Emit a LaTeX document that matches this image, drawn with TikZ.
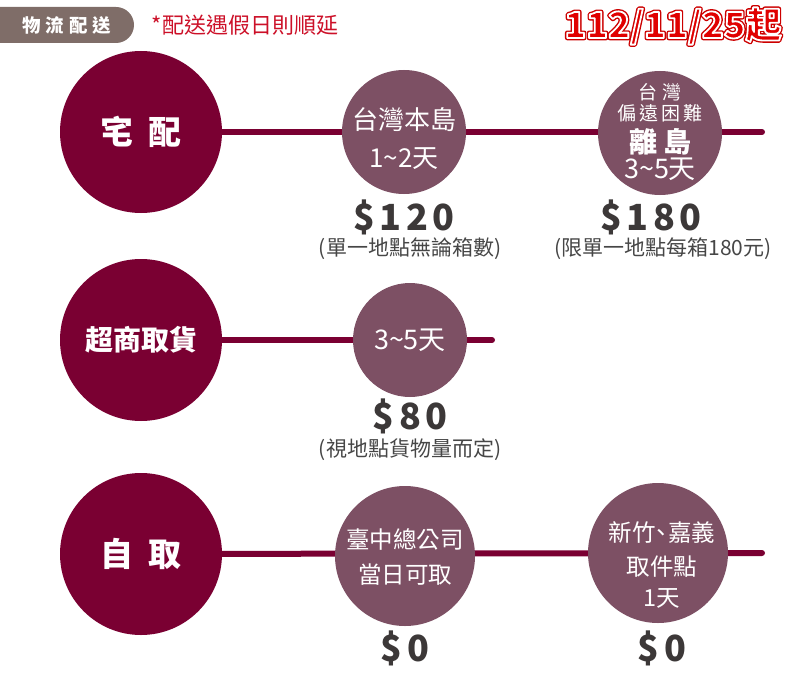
\documentclass[tikz,border=0pt]{standalone}
\usepackage{fontspec}
\setmainfont{Noto Sans CJK TC}
\usepackage{tikz}
\usetikzlibrary{positioning, backgrounds}
\definecolor{mymaroon}{RGB}{122,0,50}
\definecolor{mymauve}{RGB}{125,80,100}
\definecolor{mytag}{RGB}{127,109,104}
\definecolor{myred}{RGB}{204,16,40}
\definecolor{mydatered}{RGB}{225,0,0}
\definecolor{myprice}{RGB}{60,56,56}
\definecolor{mynote}{RGB}{70,70,70}
\newcommand{\cjksize}[2]{\fontsize{#1}{#2}\selectfont\lineskiplimit=-100pt}
% outlined text: #1 = line width, #2 = stroke colour (rgb)
\newcommand{\outlined}[3]{\special{pdf:literal direct 2 Tr 1 j #1 w #2 RG}#3\special{pdf:literal direct 0 Tr}}
\tikzstyle{mainway} = [circle, minimum size=162pt, inner sep=0pt, fill=mymaroon, text=white, align=center]
\tikzstyle{option} = [circle, inner sep=-40pt, fill=mymauve, text=white, align=center]
\tikzstyle{optiontext} = [inner sep=0pt, text=white, align=center]
\tikzstyle{price} = [inner sep=0pt, text=myprice, font=\bfseries\fontsize{36}{36}\selectfont\addfontfeature{LetterSpace=12}]
\tikzstyle{note} = [inner sep=0pt, text=mynote, font=\fontsize{21}{21}\selectfont]
\tikzstyle{datestyle} = [inner sep=0pt, text=mydatered, font=\bfseries\fontsize{36}{36}\selectfont]
\tikzstyle{route} = [line width=6pt, draw=mymaroon, line cap=round]

\begin{document}
\begin{tikzpicture}[x=1pt, y=-1pt]
    \useasboundingbox (0,0) rectangle (800,682);

    % header
    \fill[mytag] (0,7) -- (116,7) arc[start angle=-90, end angle=90, radius=18] -- (0,43) -- cycle;
    \node (tag) at (67,25) [text=white, font=\bfseries\fontsize{18.5}{18.5}\selectfont] {物\hspace{5pt}流\hspace{5pt}配\hspace{5pt}送};
    \node (delay) at (245,25) [text=myred, font=\fontsize{22}{22}\selectfont] {*配送遇假日則順延};
    \node (dateback) at (673,26) [datestyle] {\outlined{4.6}{0.8 0 0}{112/11/25起}};
    \node (date) at (dateback) [datestyle] {\outlined{1.8}{1 1 1}{112/11/25起}};

    % ways
    \node (home) at (141,132) [mainway, font=\bfseries\fontsize{33}{33}\selectfont] {宅\hspace{16pt}配};
    \node (store) at (141,340) [mainway, font=\bfseries\fontsize{28}{28}\selectfont] {超商取貨};
    \node (pickup) at (141,554) [mainway, font=\bfseries\fontsize{33}{33}\selectfont] {自\hspace{16pt}取};

    % options
    \node (island) at (404,132) [option, minimum size=124pt] {};
    \node (islandtext) at (404,139) [optiontext, font=\cjksize{26}{38}] {台灣本島\\1\textasciitilde 2天};
    \node (remote) at (660,133) [option, minimum size=124pt] {};
    \node (remotetext) at (660,132) [optiontext, font=\cjksize{19}{21}] {台\hspace{6pt}灣\\偏\hspace{3pt}遠\hspace{3pt}困\hspace{3pt}難\\[11.5pt]{\bfseries\fontsize{28}{28}\selectfont 離\hspace{6pt}島}\\[4.5pt]{\fontsize{27}{27}\selectfont 3\textasciitilde 5天}};
    \node (cvsday) at (410,340) [option, minimum size=114pt, font=\fontsize{27}{27}\selectfont] {3\textasciitilde 5天};
    \node (hq) at (405,556) [option, minimum size=140pt] {};
    \node (hqtext) at (405,557) [optiontext, font=\cjksize{23.5}{35}] {臺中總公司\\當日可取};
    \node (branch) at (658,553) [option, minimum size=140pt] {};
    \node (branchtext) at (662,565) [optiontext, font=\cjksize{23.5}{34}] {新竹\hspace{-6pt}、\hspace{-5pt}嘉義\\取件點\\[-3pt]1天};

    % prices
    \node (p120) at (404,217) [price] {\$120};
    \node (n120) at (410,249) [note] {(單一地點無論箱數)};
    \node (p180) at (651,217) [price] {\$180};
    \node (n180) at (663,249) [note] {(限單一地點每箱180元)};
    \node (p80) at (410,416) [price] {\$80};
    \node (n80) [note, below=5pt of p80] {(視地點貨物量而定)};
    \node (p0hq) at (405,648) [price] {\$0};
    \node (p0br) at (662,648) [price] {\$0};

    \coordinate (homeend) at (762,132);
    \coordinate (storeend) at (492,340);
    \coordinate (pickupend) at (762,553);
    \begin{scope}[on background layer]
        \draw [route] (home) -- (homeend);
        \draw [route] (store) -- (storeend);
        \draw [route] (pickup) -- (pickupend);
    \end{scope}
\end{tikzpicture}
\end{document}
